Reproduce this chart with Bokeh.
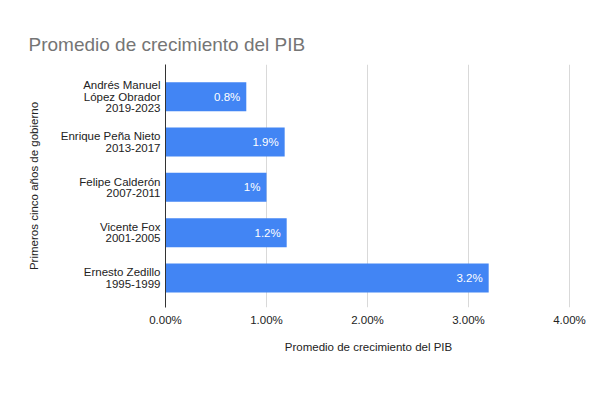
from bokeh.plotting import figure
from bokeh.models import ColumnDataSource, Range1d, FixedTicker
from bokeh.core.properties import value
from bokeh.embed import file_html
from bokeh.resources import INLINE

# Data (top to bottom as shown)
presidents = [
    "Andrés Manuel\nLópez Obrador\n2019-2023",
    "Enrique Peña Nieto\n2013-2017",
    "Felipe Calderón\n2007-2011",
    "Vicente Fox\n2001-2005",
    "Ernesto Zedillo\n1995-1999",
]
growth = [0.8, 1.18, 1.0, 1.2, 3.2]
bar_labels = ["0.8%", "1.9%", "1%", "1.2%", "3.2%"]
x_ticks = [0, 1, 2, 3, 4]
x_tick_labels = ["0.00%", "1.00%", "2.00%", "3.00%", "4.00%"]

n = len(presidents)
ypos = [n - 1 - i for i in range(n)]
src = ColumnDataSource(dict(y=ypos, v=growth, lab=bar_labels))

FONT = "Liberation Sans"

p = figure(width=600, height=400, output_backend="svg", toolbar_location=None,
           x_range=Range1d(0, 4.02), y_range=Range1d(-0.65, 4.71),
           min_border_left=165, min_border_right=29, min_border_top=64, min_border_bottom=93)
p.outline_line_color = None
p.background_fill_color = "white"
p.border_fill_color = "white"

p.title.text = "Promedio de crecimiento del PIB"
p.title.text_font = FONT
p.title.text_font_size = "19px"
p.title.text_font_style = "normal"
p.title.text_color = "#757575"
p.title.align = "left"
p.title.offset = -137
p.title.standoff = 20

p.hbar(y="y", right="v", left=0, height=0.64, source=src, color="#4285F4", line_color=None)
p.text(x="v", y="y", text="lab", source=src, x_offset=-6, text_align="right",
       text_baseline="middle", text_color="white", text_font=value(FONT), text_font_size="11.5px")

# x axis
p.xaxis.ticker = FixedTicker(ticks=x_ticks)
p.xaxis.major_label_overrides = {t: l for t, l in zip(x_ticks, x_tick_labels)}
p.xaxis.axis_line_color = None
p.xaxis.major_tick_line_color = None
p.xaxis.major_tick_out = 0
p.xaxis.major_tick_in = 0
p.xaxis.minor_tick_line_color = None
p.xaxis.major_label_standoff = 6
p.xaxis.major_label_text_font = FONT
p.xaxis.major_label_text_font_size = "11.5px"
p.xaxis.major_label_text_color = "#222222"
p.xaxis.axis_label = "Promedio de crecimiento del PIB"
p.xaxis.axis_label_text_font = FONT
p.xaxis.axis_label_text_font_size = "11.5px"
p.xaxis.axis_label_text_font_style = "normal"
p.xaxis.axis_label_text_color = "#222222"
p.xaxis.axis_label_standoff = 12

# y axis
p.yaxis.ticker = FixedTicker(ticks=ypos)
p.yaxis.major_label_overrides = {y: name for y, name in zip(ypos, presidents)}
p.yaxis.axis_line_color = "#333333"
p.yaxis.axis_line_width = 1
p.yaxis.major_tick_line_color = None
p.yaxis.major_tick_out = 0
p.yaxis.major_tick_in = 0
p.yaxis.minor_tick_line_color = None
p.yaxis.major_label_standoff = 5
p.yaxis.major_label_text_font = FONT
p.yaxis.major_label_text_font_size = "11.5px"
p.yaxis.major_label_text_color = "#222222"
p.yaxis.major_label_text_line_height = 0.95
p.yaxis.axis_label = "Primeros cinco años de gobierno"
p.yaxis.axis_label_text_font = FONT
p.yaxis.axis_label_text_font_size = "11.5px"
p.yaxis.axis_label_text_font_style = "normal"
p.yaxis.axis_label_text_color = "#222222"
p.yaxis.axis_label_standoff = 18

p.xgrid.grid_line_color = "#d9d9d9"
p.xgrid.grid_line_width = 1
p.ygrid.grid_line_color = None

open("out.html", "w").write(file_html(p, INLINE))
